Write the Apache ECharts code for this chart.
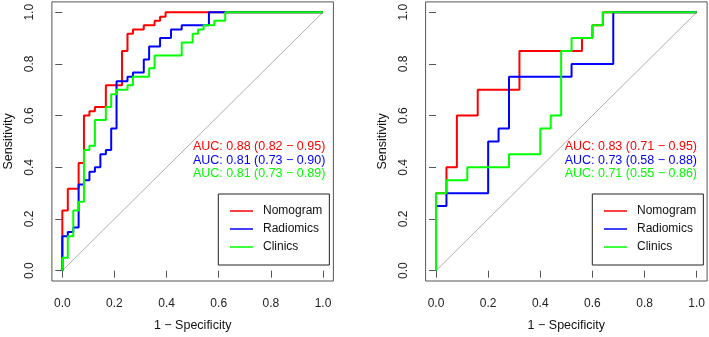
<!DOCTYPE html>
<html>
<head>
<meta charset="utf-8">
<script src="https://cdn.jsdelivr.net/npm/echarts@6/dist/echarts.min.js"></script>
<style>
  html, body { margin: 0; padding: 0; background: #fff; }
  #roc { width: 709px; height: 337px; }
</style>
</head>
<body>
<div id="roc"></div>
<script>
// curve corners (1 - specificity, sensitivity), drawn as vertical-then-horizontal steps
const trainNomogramFpr = [0, 0.021, 0.0625, 0.083, 0.104, 0.125, 0.167, 0.229, 0.25, 0.271, 0.3125, 0.354, 0.375, 0.396, 1];
const trainNomogramTpr = [0, 0.233, 0.317, 0.417, 0.6, 0.617, 0.633, 0.717, 0.85, 0.917, 0.933, 0.95, 0.967, 0.983, 1];
const trainRadiomicsFpr = [0, 0.021, 0.042, 0.0625, 0.083, 0.104, 0.125, 0.146, 0.167, 0.1875, 0.208, 0.25, 0.271, 0.3125, 0.333, 0.375, 0.417, 0.458, 0.5625, 1];
const trainRadiomicsTpr = [0, 0.133, 0.15, 0.167, 0.333, 0.35, 0.383, 0.4, 0.45, 0.467, 0.55, 0.733, 0.75, 0.767, 0.817, 0.867, 0.9, 0.933, 0.95, 1];
const trainClinicsFpr = [0, 0.021, 0.042, 0.0625, 0.083, 0.104, 0.125, 0.167, 0.1875, 0.208, 0.25, 0.271, 0.333, 0.354, 0.458, 0.5, 0.521, 0.542, 0.583, 0.625, 1];
const trainClinicsTpr = [0, 0.05, 0.133, 0.233, 0.267, 0.467, 0.483, 0.583, 0.633, 0.683, 0.7, 0.717, 0.75, 0.783, 0.833, 0.883, 0.917, 0.933, 0.95, 0.967, 1];

const testNomogramFpr = [0, 0.04, 0.08, 0.16, 0.32, 0.56, 0.6, 0.64, 1];
const testNomogramTpr = [0, 0.3, 0.4, 0.6, 0.7, 0.85, 0.9, 0.95, 1];
const testRadiomicsFpr = [0, 0.04, 0.2, 0.24, 0.28, 0.52, 0.68, 1];
const testRadiomicsTpr = [0, 0.25, 0.3, 0.5, 0.55, 0.75, 0.8, 1];
const testClinicsFpr = [0, 0.04, 0.12, 0.28, 0.4, 0.44, 0.48, 0.52, 0.6, 0.64, 1];
const testClinicsTpr = [0, 0.3, 0.35, 0.4, 0.45, 0.55, 0.6, 0.85, 0.9, 0.95, 1];

const modelNames = ['Nomogram', 'Radiomics', 'Clinics'];
const modelColors = ['#ff0000', '#0000ff', '#00ff00'];
const trainAuc = ['AUC: 0.88 (0.82 \u2212 0.95)', 'AUC: 0.81 (0.73 \u2212 0.90)', 'AUC: 0.81 (0.73 \u2212 0.89)'];
const testAuc = ['AUC: 0.83 (0.71 \u2212 0.95)', 'AUC: 0.73 (0.58 \u2212 0.88)', 'AUC: 0.71 (0.55 \u2212 0.86)'];
const tickValues = [0, 0.2, 0.4, 0.6, 0.8, 1];

const font = "'Liberation Sans', Arial, sans-serif";

function pairs(xs, ys) {
    return xs.map((x, i) => [x, ys[i]]);
}

function makeAxis(idx, isX) {
    return {
        type: 'value',
        gridIndex: idx,
        min: -0.04,
        max: 1.04,
        name: isX ? '1 \u2212 Specificity' : 'Sensitivity',
        nameLocation: 'middle',
        nameGap: isX ? 38 : 37,
        nameTextStyle: { fontFamily: font, fontSize: 12.5, color: '#111' },
        axisLine: { show: false },
        splitLine: { show: false },
        axisTick: { show: true, inside: false, length: 7, lineStyle: { color: '#555' }, customValues: tickValues },
        axisLabel: {
            show: true, margin: isX ? 17 : 16, rotate: isX ? 0 : 90,
            fontFamily: font, fontSize: 12, color: '#222',
            customValues: tickValues,
            formatter: (v) => v.toFixed(1)
        }
    };
}

function rocSeries(idx, name, color, xs, ys) {
    return {
        name: name,
        type: 'line',
        xAxisIndex: idx,
        yAxisIndex: idx,
        step: 'start',
        showSymbol: false,
        symbol: 'none',
        silent: true,
        animation: false,
        lineStyle: { color: color, width: 2 },
        itemStyle: { color: color },
        data: pairs(xs, ys)
    };
}

function diagSeries(idx) {
    return {
        type: 'line', xAxisIndex: idx, yAxisIndex: idx,
        showSymbol: false, symbol: 'none', silent: true, animation: false,
        lineStyle: { color: '#b0b0b0', width: 1 },
        data: [[0, 0], [1, 1]]
    };
}

function aucTitles(texts, right) {
    const tops = [139.7, 153.5, 167];
    return texts.map((t, i) => ({
        text: t,
        right: right,
        top: tops[i],
        padding: 0,
        textStyle: { fontFamily: font, fontSize: 12.5, fontWeight: 'normal', color: modelColors[i], lineHeight: 14 }
    }));
}

function makeLegend(left) {
    return {
        data: modelNames,
        orient: 'vertical',
        left: left,
        top: 194,
        padding: [10, 7, 11, 11.7],
        itemGap: 4,
        itemWidth: 23,
        itemHeight: 1.5,
        icon: 'rect',
        borderColor: '#222',
        borderWidth: 1,
        selectedMode: false,
        textStyle: { fontFamily: font, fontSize: 12, color: '#111', lineHeight: 14, padding: [0, 0, 0, 5] }
    };
}

var chartDom = document.getElementById('roc');
var myChart = echarts.init(chartDom, null, { renderer: 'canvas' });

var trainData = [[trainNomogramFpr, trainNomogramTpr], [trainRadiomicsFpr, trainRadiomicsTpr], [trainClinicsFpr, trainClinicsTpr]];
var testData = [[testNomogramFpr, testNomogramTpr], [testRadiomicsFpr, testRadiomicsTpr], [testClinicsFpr, testClinicsTpr]];

var series = [diagSeries(0), diagSeries(1)];
trainData.forEach((d, i) => series.push(rocSeries(0, modelNames[i], modelColors[i], d[0], d[1])));
testData.forEach((d, i) => series.push(rocSeries(1, modelNames[i], modelColors[i], d[0], d[1])));

var option = {
    backgroundColor: '#fff',
    animation: false,
    title: aucTitles(trainAuc, 383.7).concat(aucTitles(testAuc, 12)),
    legend: [makeLegend(218.3), makeLegend(592.3)],
    grid: [
        { left: 51.9, top: 1.9, width: 281.5, height: 280.8, show: true, borderColor: '#555', borderWidth: 1, backgroundColor: 'transparent' },
        { left: 425.6, top: 1.9, width: 281.5, height: 280.8, show: true, borderColor: '#555', borderWidth: 1, backgroundColor: 'transparent' }
    ],
    xAxis: [makeAxis(0, true), makeAxis(1, true)],
    yAxis: [makeAxis(0, false), makeAxis(1, false)],
    series: series
};

option && myChart.setOption(option);
</script>
</body>
</html>
